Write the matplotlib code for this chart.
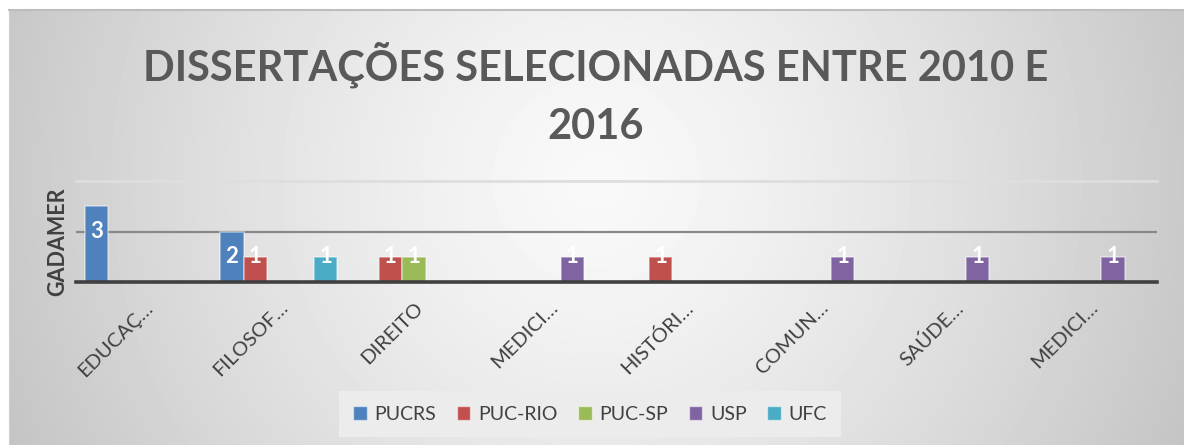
import numpy as np
import matplotlib
matplotlib.use("Agg")
import matplotlib.pyplot as plt
from matplotlib.patches import Patch

plt.rcParams['font.family'] = ['Lato', 'DejaVu Sans']

# data
categories = ["EDUCAÇ…", "FILOSOF…", "DIREITO", "MEDICI…",
              "HISTÓRI…", "COMUN…", "SAÚDE…", "MEDICI…"]
series = ["PUCRS", "PUC-RIO", "PUC-SP", "USP", "UFC"]
pucrs = [3, 2, 0, 0, 0, 0, 0, 0]
puc_rio = [0, 1, 1, 0, 1, 0, 0, 0]
puc_sp = [0, 0, 1, 0, 0, 0, 0, 0]
usp = [0, 0, 0, 1, 0, 1, 1, 1]
ufc = [0, 1, 0, 0, 0, 0, 0, 0]
colors = ["#4F81BD", "#C0504D", "#9BBB59", "#8064A2", "#4BACC6"]

W, H = 1184, 445
fig = plt.figure(figsize=(W / 100, H / 100), dpi=100)
fig.patch.set_facecolor("white")

# radial grey background like the excel chart area
bg = fig.add_axes([9 / W, 0, 1 - 9 / W, 1 - 10 / H], zorder=-10)
yy, xx = np.mgrid[10:H, 9:W]
r = np.hypot(xx - 596, (yy - 180) * 1.0) / 614
g = np.clip(249 - 50 * r ** 1.3, 190, 250) / 255
bg.imshow(g, cmap="gray", vmin=0, vmax=1, aspect="auto",
          extent=[0, 1, 0, 1], interpolation="bilinear")
bg.set_xlim(0, 1)
bg.set_ylim(0, 1)
bg.set_xticks([])
bg.set_yticks([])
for s in ["bottom", "right"]:
    bg.spines[s].set_visible(False)
bg.spines["top"].set_color("#bdbdbd")
bg.spines["left"].set_color("#d0d0d0")
bg.spines["top"].set_linewidth(1.5)

ax = fig.add_axes([76 / W, 1 - 282 / H, (1157 - 76) / W, (282 - 181) / H])
ax.patch.set_alpha(0)

x = np.arange(len(categories))
w = 0.1733
data = [pucrs, puc_rio, puc_sp, usp, ufc]
for i, (vals, c) in enumerate(zip(data, colors)):
    pos = x + (i - 2) * w
    ax.bar(pos, vals, width=w, color=c, edgecolor=(1, 1, 1, 0.45),
           linewidth=1.2, zorder=3)
    for px, v in zip(pos, vals):
        if v == 0:
            continue
        off = -18 if v > 1 else 0
        ax.annotate(str(v), (px, v), xytext=(0, off), textcoords="offset points",
                    ha="center", va="center", color="white",
                    fontweight="bold", fontsize=16, zorder=4)

ax.set_xlim(-0.5, len(categories) - 0.5)
ax.set_ylim(0, 4)
ax.axhline(2, color="#888888", lw=1.6, zorder=1)
ax.axhline(4, color="#dedede", lw=2, zorder=1, clip_on=False)
ax.axhline(0, color="#404040", lw=2.6, zorder=5, clip_on=False)
for s in ax.spines.values():
    s.set_visible(False)
ax.set_yticks([])
ax.set_xticks(x)
ax.set_xticklabels(categories, rotation=45, ha="right", rotation_mode="anchor",
                   fontsize=14.5, color="#404040")
ax.tick_params(axis="x", length=0, pad=12)

fig.text(58 / W, 1 - 242 / H, "GADAMER", rotation=90, ha="center", va="center",
         fontsize=15.5, fontweight="bold", color="#404040")

fig.text(596 / W, 1 - 94 / H, "DISSERTAÇÕES SELECIONADAS ENTRE 2010 E\n2016",
         ha="center", va="center", fontsize=30, fontweight="bold",
         color="#595959", linespacing=1.6)

handles = [Patch(facecolor=c, edgecolor=(1, 1, 1, 0.5), label=s)
           for s, c in zip(series, colors)]
leg = fig.legend(handles=handles, loc="center", ncol=5,
                 bbox_to_anchor=(590 / W, 1 - 414 / H), frameon=True,
                 fancybox=False, facecolor="#ececec", edgecolor="none",
                 fontsize=14, handlelength=0.7, handleheight=0.7,
                 handletextpad=0.4, columnspacing=1.05, borderpad=0.75,
                 borderaxespad=0)
leg.get_frame().set_alpha(1)
for t in leg.get_texts():
    t.set_color("#404040")

fig.savefig("out.png", dpi=100)
